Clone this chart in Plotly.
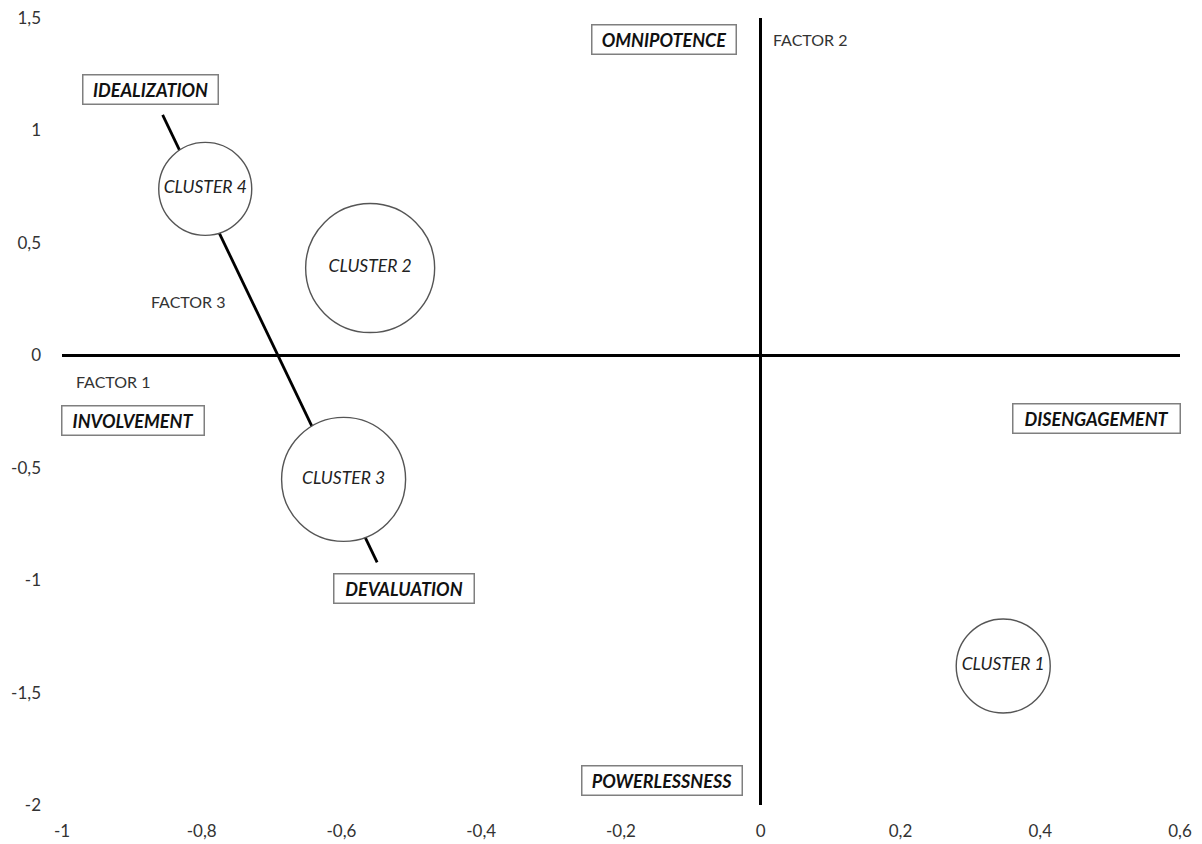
import plotly.graph_objects as go

# ---- data ----
cluster_names = ["CLUSTER 1", "CLUSTER 2", "CLUSTER 3", "CLUSTER 4"]
cluster_x = [0.347, -0.559, -0.597, -0.795]
cluster_y = [-1.382, 0.388, -0.552, 0.74]
cluster_size = [94, 129, 124, 93]

factor3_x = [-0.856, -0.549]
factor3_y = [1.069, -0.921]

pole_labels = ["IDEALIZATION", "OMNIPOTENCE", "INVOLVEMENT", "DISENGAGEMENT", "DEVALUATION", "POWERLESSNESS"]
pole_x = [-0.873, -0.139, -0.898, 0.481, -0.5106, -0.1413]
pole_y = [1.184, 1.404, -0.292, -0.283, -1.039, -1.889]
pole_w = [134, 143, 141, 166, 139, 159]

factor_labels = ["FACTOR 1", "FACTOR 2", "FACTOR 3"]
factor_x = [-0.927, 0.0705, -0.8185]
factor_y = [-0.117, 1.404, 0.238]

x_tickvals = [-1, -0.8, -0.6, -0.4, -0.2, 0, 0.2, 0.4, 0.6]
x_ticktext = ["-1", "-0,8", "-0,6", "-0,4", "-0,2", "0", "0,2", "0,4", "0,6"]
y_tickvals = [-2, -1.5, -1, -0.5, 0, 0.5, 1, 1.5]
y_ticktext = ["-2", "-1,5", "-1", "-0,5", "0", "0,5", "1", "1,5"]

FONT = "Lato"

fig = go.Figure()

fig.add_trace(go.Scatter(
    x=factor3_x, y=factor3_y, mode="lines",
    line=dict(color="black", width=2.8), hoverinfo="skip", showlegend=False,
))

fig.add_trace(go.Scatter(
    x=cluster_x, y=cluster_y, mode="markers+text",
    marker=dict(size=cluster_size, color="white", opacity=1,
                line=dict(color="#555555", width=1.4)),
    text=cluster_names, textposition="middle center",
    textfont=dict(family=FONT, size=17.5, color="#222222", style="italic"),
    showlegend=False, hoverinfo="skip",
))

for lab, x, y, w in zip(pole_labels, pole_x, pole_y, pole_w):
    fig.add_annotation(
        x=x, y=y, text="<b><i>%s</i></b>" % lab, showarrow=False,
        font=dict(family=FONT, size=18, color="#111111"),
        bordercolor="#7f7f7f", borderwidth=1.5, borderpad=0,
        bgcolor="white", width=w, height=28,
    )

for lab, x, y in zip(factor_labels, factor_x, factor_y):
    fig.add_annotation(
        x=x, y=y, text=lab, showarrow=False,
        font=dict(family=FONT, size=16, color="#333333"),
    )

fig.update_layout(
    width=1202, height=844,
    margin=dict(l=62, r=22, t=18, b=39, autoexpand=False),
    paper_bgcolor="white", plot_bgcolor="white",
    font=dict(family=FONT, size=17, color="#333333"),
    showlegend=False,
)
fig.update_xaxes(
    range=[-1, 0.6], tickvals=x_tickvals, ticktext=x_ticktext, automargin=False,
    showgrid=False, showline=False, zeroline=True, zerolinecolor="black", zerolinewidth=3,
    ticks="", ticklabelstandoff=14, tickfont=dict(size=17, color="#333333"),
)
fig.update_yaxes(
    range=[-2, 1.5], tickvals=y_tickvals, ticktext=y_ticktext, automargin=False,
    showgrid=False, showline=False, zeroline=True, zerolinecolor="black", zerolinewidth=3,
    ticks="", ticklabelstandoff=20, tickfont=dict(size=17, color="#333333"),
)

fig.write_html(
    "out.html",
    config={"displayModeBar": False},
    post_script="document.body.style.margin='0';document.body.style.overflow='hidden';",
)
